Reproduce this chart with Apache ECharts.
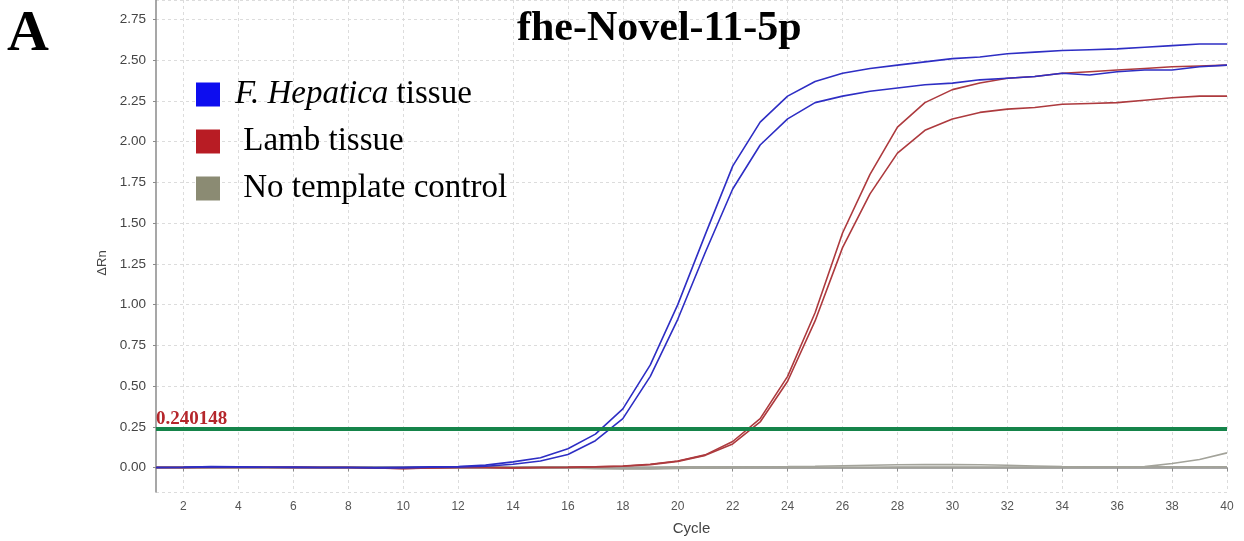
<!DOCTYPE html>
<html>
<head>
<meta charset="utf-8">
<script src="https://cdn.jsdelivr.net/npm/echarts@6/dist/echarts.min.js"></script>
<style>
html,body{margin:0;padding:0;background:#fff;}
#chart{width:1244px;height:541px;}
</style>
</head>
<body>
<div id="chart"></div>
<script>
// ---- data ----
var cycles = [1,2,3,4,5,6,7,8,9,10,11,12,13,14,15,16,17,18,19,20,21,22,23,24,25,26,27,28,29,30,31,32,33,34,35,36,37,38,39,40];
var hepatica1 = [0.000,0.002,0.006,0.004,0.002,0.002,0.000,0.000,0.000,0.002,0.004,0.006,0.015,0.035,0.060,0.115,0.205,0.36,0.63,1.00,1.43,1.85,2.12,2.28,2.37,2.42,2.45,2.47,2.49,2.51,2.52,2.54,2.55,2.56,2.565,2.57,2.58,2.59,2.60,2.60];
var hepatica2 = [0.000,0.001,0.004,0.003,0.002,0.001,0.000,0.000,-0.002,-0.002,0.002,0.004,0.008,0.020,0.040,0.080,0.165,0.30,0.56,0.91,1.32,1.71,1.98,2.14,2.24,2.28,2.31,2.33,2.35,2.36,2.38,2.39,2.40,2.42,2.41,2.43,2.44,2.44,2.46,2.47];
var lamb1 = [0.000,0.000,0.002,0.002,0.002,0.001,0.000,0.000,-0.002,-0.006,-0.002,0.000,0.000,-0.002,0.000,0.002,0.005,0.010,0.020,0.040,0.078,0.16,0.30,0.56,0.95,1.44,1.80,2.09,2.24,2.32,2.36,2.39,2.40,2.42,2.43,2.44,2.45,2.46,2.465,2.47];
var lamb2 = [0.000,0.000,0.001,0.002,0.001,0.001,0.000,0.000,-0.003,-0.007,-0.003,0.000,0.000,-0.002,0.000,0.001,0.004,0.008,0.018,0.038,0.075,0.145,0.28,0.53,0.90,1.35,1.68,1.93,2.07,2.14,2.18,2.20,2.21,2.23,2.235,2.24,2.255,2.27,2.28,2.28];
var ntc1 = [0.000,0.000,0.001,0.001,0.000,0.000,0.000,0.000,0.000,0.000,0.000,0.000,0.000,0.000,0.000,0.000,-0.004,-0.006,-0.005,-0.003,-0.002,0.000,0.000,0.000,0.000,0.000,0.000,0.000,0.000,0.000,0.000,0.000,0.000,0.000,0.001,0.002,0.006,0.025,0.050,0.090];
var ntc2 = [0.004,0.004,0.004,0.004,0.004,0.004,0.004,0.004,0.004,0.004,0.004,0.004,0.004,0.004,0.004,0.004,0.004,0.003,0.003,0.004,0.004,0.004,0.005,0.006,0.008,0.011,0.014,0.017,0.018,0.018,0.017,0.014,0.010,0.006,0.005,0.005,0.005,0.005,0.005,0.005];
var ntc3 = [0.002,0.002,0.002,0.002,0.002,0.002,0.002,0.002,0.002,0.002,0.002,0.002,0.002,0.001,0.000,-0.003,-0.007,-0.009,-0.008,-0.005,-0.003,-0.001,0.000,0.001,0.002,0.002,0.002,0.003,0.003,0.003,0.003,0.003,0.003,0.003,0.004,0.004,0.004,0.004,0.004,0.004];
var threshold = 0.240148;
var yTicks = [0, 0.25, 0.5, 0.75, 1, 1.25, 1.5, 1.75, 2, 2.25, 2.5, 2.75];

var nameHep = 'F. Hepatica tissue';
var nameLamb = 'Lamb tissue';
var nameNtc = 'No template control';

var blue = '#2e2ec4';
var red = '#ad3a3e';
var gray = '#a3a39a';

function lineSeries(name, data, color, z) {
  return {
    name: name, type: 'line', data: data, symbol: 'none', smooth: false,
    lineStyle: {color: color, width: 1.6}, itemStyle: {color: color},
    z: z, animation: false, silent: true
  };
}

var chart = echarts.init(document.getElementById('chart'), null, {renderer: 'canvas'});
var option = {
  backgroundColor: '#fff',
  animation: false,
  title: [
    {text: 'fhe-Novel-11-5p', left: 517, top: 8, padding: 0,
     textStyle: {fontFamily: 'Liberation Serif', fontWeight: 'bold', fontSize: 42, color: '#000'}},
    {text: 'A', left: 7, top: 6, padding: 0,
     textStyle: {fontFamily: 'Liberation Serif', fontWeight: 'bold', fontSize: 58, color: '#000'}}
  ],
  legend: {
    orient: 'vertical', left: 196, top: 78, padding: 0,
    itemWidth: 24, itemHeight: 24, itemGap: 14,
    icon: 'rect',
    selectedMode: false,
    data: [
      {name: nameHep, itemStyle: {color: '#0d0def'}},
      {name: nameLamb, itemStyle: {color: '#b81c24'}},
      {name: nameNtc, itemStyle: {color: '#8b8b73'}}
    ],
    formatter: function (n) {
      if (n === nameHep) return '{i|F. Hepatica} tissue';
      return ' ' + n;
    },
    textStyle: {
      fontFamily: 'Liberation Serif', fontSize: 33, color: '#000', padding: [0, 0, 0, 10],
      rich: {i: {fontFamily: 'Liberation Serif', fontStyle: 'italic', fontSize: 33, color: '#000'}}
    }
  },
  grid: {left: 156, right: 17, top: 0, bottom: 46, containLabel: false},
  xAxis: {
    type: 'category', data: cycles, boundaryGap: false,
    name: 'Cycle', nameLocation: 'middle', nameGap: 29,
    nameTextStyle: {fontFamily: 'Liberation Sans', fontSize: 15, color: '#444'},
    axisLine: {show: true, lineStyle: {color: '#8a8a8a', width: 1.5}},
    axisTick: {show: true, length: 4, interval: function (i, v) { return Number(v) % 2 === 0; }, lineStyle: {color: '#8a8a8a'}},
    axisLabel: {interval: function (i, v) { return Number(v) % 2 === 0; }, margin: 9,
      fontFamily: 'Liberation Sans', fontSize: 12, color: '#555'},
    splitLine: {show: true, interval: function (i, v) { return Number(v) % 2 === 0; },
      lineStyle: {color: '#dcdcdc', type: [3, 3], width: 1}}
  },
  yAxis: {
    type: 'value', min: -0.15, max: 2.87, minInterval: 0.25, maxInterval: 0.25, splitNumber: 12,
    name: 'ΔRn', nameLocation: 'middle', nameGap: 45, nameRotate: 90,
    nameTextStyle: {fontFamily: 'Liberation Sans', fontSize: 13, color: '#444', padding: [0, 34, 0, 0]},
    axisLine: {show: true, lineStyle: {color: '#8a8a8a', width: 1.5}},
    axisTick: {show: true, length: 3, lineStyle: {color: '#8a8a8a'}},
    axisLabel: {showMinLabel: false, showMaxLabel: false, margin: 10,
      fontFamily: 'Liberation Sans', fontSize: 13.5, color: '#444',
      formatter: function (v) { return yTicks.some(function (t) { return Math.abs(t - v) < 1e-6; }) ? v.toFixed(2) : ''; }},
    splitLine: {show: true, lineStyle: {color: '#dcdcdc', type: [3, 3], width: 1}}
  },
  series: [
    lineSeries(nameNtc, ntc1, gray, 2),
    lineSeries(nameNtc, ntc2, gray, 2),
    lineSeries(nameNtc, ntc3, gray, 2),
    lineSeries(nameLamb, lamb1, red, 3),
    lineSeries(nameLamb, lamb2, red, 3),
    lineSeries(nameHep, hepatica1, blue, 4),
    lineSeries(nameHep, hepatica2, blue, 4),
    {
      name: 'threshold', type: 'line', data: [], z: 6, silent: true, animation: false,
      markLine: {
        silent: true, animation: false, symbol: ['none', 'none'],
        lineStyle: {color: '#15844a', width: 4, type: 'solid'},
        label: {show: true, position: 'insideStartTop', distance: [0, 0], formatter: String(threshold),
          fontFamily: 'Liberation Serif', fontWeight: 'bold', fontSize: 19, color: '#b5262b', padding: 0},
        emphasis: {disabled: true},
        data: [{yAxis: threshold}]
      }
    }
  ]
};
chart.setOption(option);
</script>
</body>
</html>
